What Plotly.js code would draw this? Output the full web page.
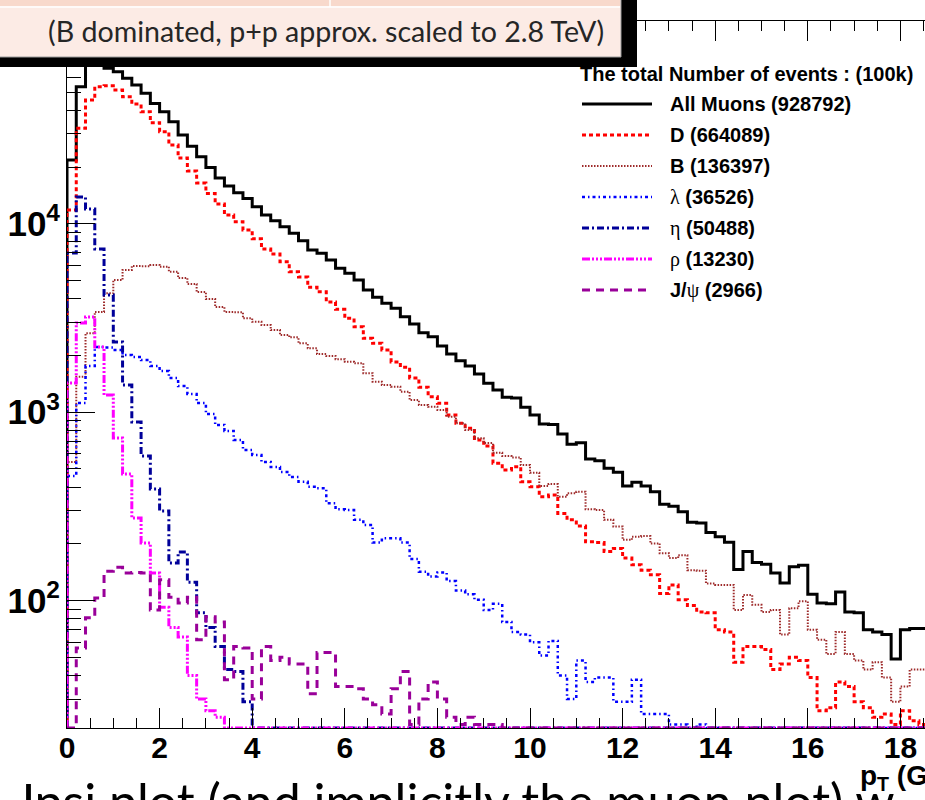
<!DOCTYPE html>
<html>
<head>
<meta charset="utf-8">
<script src="https://cdn.plot.ly/plotly-3.0.1.min.js"></script>
<style>
  html, body { margin: 0; padding: 0; background: #fff; overflow: hidden; }
  #chart { width: 925px; height: 800px; }
</style>
</head>
<body>
<div id="chart"></div>
<script>
// Muon pT spectra by parent, 0.2 GeV/c bins starting at 0
const binWidth = 0.2;
const nBins = 93;

const allMuons = [21800, 53300, 71300, 69500, 66800, 64100, 59100, 54500, 49200, 43500,
  39300, 34800, 29600, 25800, 22700, 19900, 17500, 15850, 14600, 13600,
  12300, 11120, 10370, 9640, 8890, 8130, 7250, 6970, 6420, 5800,
  5460, 5020, 4450, 4070, 3780, 3560, 3210, 2935, 2640, 2510,
  2244, 2034, 1875, 1757, 1593, 1422, 1310, 1199, 1190, 1061,
  965, 865, 860, 765, 675, 688, 564, 552, 503, 479,
  405, 424, 405, 378, 324, 317, 296, 260, 258, 230,
  218, 204, 146, 182, 159, 156, 140, 124, 151, 154,
  108, 97, 96, 111, 87, 86, 70, 68, 66, 49,
  70, 71, 71];

const dMesons = [11830, 32100, 45360, 53360, 54010, 51250, 47220, 43190, 39300, 34370,
  30780, 26160, 22320, 19040, 16440, 14460, 12720, 11120, 10250, 9260,
  8325, 7340, 6905, 6285, 5563, 5213, 4596, 4355, 3840, 3512,
  3147, 2840, 2465, 2319, 2136, 1845, 1729, 1517, 1354, 1207,
  1114, 965, 872, 820, 711, 661, 535, 493, 513, 427,
  402, 356, 363, 290, 268, 249, 205, 203, 182, 189,
  168, 155, 145, 137, 109, 121, 101, 94, 87, 86,
  70, 68, 47, 57, 57, 55, 43, 46, 50, 48,
  39, 26, 27, 37, 35, 29, 27, 24, 25, 22,
  26, 23, 22];

const bMesons = [543, 1541, 2619, 3399, 4271, 5025, 5679, 5964, 5950, 6037,
  5913, 5563, 5150, 4786, 4340, 3985, 3614, 3399, 3390, 3147,
  3018, 2900, 2728, 2566, 2495, 2319, 2181, 2034, 1986, 1907,
  1852, 1816, 1607, 1450, 1392, 1364, 1283, 1159, 1091, 1068,
  1026, 945, 872, 804, 726, 685, 609, 585, 575, 524,
  477, 405, 415, 356, 371, 378, 305, 302, 268, 247,
  210, 218, 220, 201, 178, 168, 174, 145, 144, 123,
  121, 121, 89, 107, 95, 87, 89, 66, 91, 99,
  70, 62, 52, 68, 52, 48, 43, 47, 39, 29,
  35, 43, 43];

const lambdas = [458, 1118, 1757, 2216, 2200, 2136, 2010, 1961, 1891, 1757,
  1653, 1517, 1376, 1248, 1118, 977, 854, 794, 711, 629,
  592, 543, 511, 481, 452, 427, 402, 394, 328, 305,
  302, 268, 252, 203, 214, 214, 203, 166, 142, 134,
  141, 127, 113, 108, 101, 89, 96, 77, 68, 66,
  60, 51, 61, 40, 30, 48, 37, 39, 39, 29,
  29, 38, 25, 25, 25, 22, 22, 0, 22];

const etas = [6990, 13860, 11970, 7340, 4183, 2356, 1392, 886, 585, 391,
  299, 158, 181, 125, 86, 72, 57, 43, 42, 29];

const rhos = [1427, 2972, 3198, 2216, 1233, 729, 469, 274, 202, 140,
  92, 72, 64, 40, 30, 26, 24];

const jpsis = [0, 56, 81, 103, 143, 150, 140, 141, 140, 89,
  129, 104, 97, 104, 62, 82, 77, 38, 57, 56,
  30, 57, 48, 50, 46, 46, 32, 53, 53, 35,
  35, 34, 30, 28, 25, 34, 42, 22, 30, 37,
  30, 24, 22, 24, 22, 22, 22];

const legendLabels = ['<b>All Muons</b>', '<b>D</b>', '<b>B</b>',
  '<span style="font-family:\'Liberation Serif\';font-weight:normal">λ</span>',
  '<span style="font-family:\'Liberation Serif\';font-weight:normal">η</span>',
  '<span style="font-family:\'Liberation Serif\';font-weight:normal">ρ</span>',
  '<b>J/</b><span style="font-family:\'Liberation Serif\';font-weight:normal">ψ</span>'];
const legendCounts = [928792, 664089, 136397, 36526, 50488, 13230, 2966];
const legendTitle = 'The total Number of events : (100k)';

const xTickVals = [0, 2, 4, 6, 8, 10, 12, 14, 16, 18];
const yTickVals = [100, 1000, 10000];
const yTickText = ['10<sup>2</sup>', '10<sup>3</sup>', '10<sup>4</sup>'];
const xAxisTitle = 'p<sub>T</sub> (GeV/c)';
const calloutText = '(B dominated, p+p approx. scaled to 2.8 TeV)';
const noteText = 'Jpsi plot (and implicitly the muon plot) w';

// ---- geometry ----
const W = 925, H = 800;
const M = {l: 67, r: 0, t: 21, b: 72};
const plotW = W - M.l - M.r;
const plotH = H - M.t - M.b;
const pxPerGeV = 46.3;
const pxPerDecade = 188.4;
const xMax = plotW / pxPerGeV;
const yLogMin = 1.3234;
const yLogMax = yLogMin + plotH / pxPerDecade;
const floorVal = Math.pow(10, yLogMin);

const px2x = p => (p - M.l) / plotW;
const py2y = p => (H - M.b - p) / plotH;

const styles = [
  {color: '#000000', width: 3, dash: 'solid'},
  {color: '#ff0000', width: 3, dash: '4px,3px'},
  {color: '#9e2b2b', width: 2, dash: '1.5px,1.5px'},
  {color: '#0000ff', width: 2.5, dash: '3px,3px,1.5px,3px'},
  {color: '#000099', width: 3, dash: '7px,3px,2px,3px'},
  {color: '#ff00ff', width: 3, dash: '8px,2px,2px,2px,2px,2px,2px,2px'},
  {color: '#990099', width: 3, dash: '8px,6px'}
];
const seriesList = [allMuons, dMesons, bMesons, lambdas, etas, rhos, jpsis];

// ROOT-style outline histogram; empty bins sit on the axis floor
function stepTrace(vals, st) {
  const xs = [0], ys = [floorVal];
  let last = floorVal;
  for (let i = 0; i < nBins; i++) {
    const v = i < vals.length ? vals[i] : 0;
    last = v > 0 ? v : floorVal;
    xs.push(i * binWidth); ys.push(last);
  }
  xs.push(nBins * binWidth); ys.push(last);
  return {
    type: 'scatter', mode: 'lines', x: xs, y: ys,
    line: {shape: 'hv', color: st.color, width: st.width, dash: st.dash},
    hoverinfo: 'skip'
  };
}
const traces = seriesList.map((s, i) => stepTrace(s, styles[i]));

// minor log ticks
const yMinor = [];
[10, 100, 1000, 10000].forEach(d => { for (let k = 2; k <= 9; k++) yMinor.push(k * d); });

const tickFont = "'Liberation Sans Narrow', 'Liberation Sans', Arial, sans-serif";
const legFont = "'Liberation Sans', Arial, sans-serif";

const shapes = [];
const annotations = [];

// legend
annotations.push({xref: 'paper', yref: 'paper', x: px2x(578), y: py2y(74),
  xanchor: 'left', yanchor: 'middle', showarrow: false,
  text: '<b>' + legendTitle + '</b>', font: {family: legFont, size: 20, color: '#000'}});
legendLabels.forEach((lab, i) => {
  const yc = 104 + 31 * i;
  shapes.push({type: 'line', xref: 'paper', yref: 'paper', layer: 'above',
    x0: px2x(582), x1: px2x(652), y0: py2y(yc), y1: py2y(yc),
    line: {color: styles[i].color, width: styles[i].width, dash: styles[i].dash}});
  annotations.push({xref: 'paper', yref: 'paper', x: px2x(668), y: py2y(yc),
    xanchor: 'left', yanchor: 'middle', showarrow: false,
    text: lab + '<b> (' + legendCounts[i] + ')</b>',
    font: {family: legFont, size: 20, color: '#000'}});
});

// callout panel over the top-left corner
shapes.push({type: 'rect', xref: 'paper', yref: 'paper', layer: 'above',
  x0: px2x(-20), x1: px2x(637), y0: py2y(-20), y1: py2y(67),
  fillcolor: '#000', line: {width: 0}});
shapes.push({type: 'rect', xref: 'paper', yref: 'paper', layer: 'above',
  x0: px2x(-20), x1: px2x(621), y0: py2y(-20), y1: py2y(57),
  fillcolor: '#fcebe5', line: {color: '#9a9a9a', width: 1}});
shapes.push({type: 'rect', xref: 'paper', yref: 'paper', layer: 'above',
  x0: px2x(-20), x1: px2x(620), y0: py2y(-20), y1: py2y(6),
  fillcolor: '#f8d9cc', line: {width: 0}});
shapes.push({type: 'line', xref: 'paper', yref: 'paper', layer: 'above',
  x0: px2x(-20), x1: px2x(620), y0: py2y(7), y1: py2y(7),
  line: {color: '#ffffff', width: 1.5}});
shapes.push({type: 'line', xref: 'paper', yref: 'paper', layer: 'above',
  x0: px2x(330), x1: px2x(330), y0: py2y(-20), y1: py2y(7),
  line: {color: '#ffffff', width: 1.5}});
annotations.push({xref: 'paper', yref: 'paper', x: px2x(46), y: py2y(31),
  xanchor: 'left', yanchor: 'middle', showarrow: false, text: calloutText,
  font: {family: 'Lato, sans-serif', size: 28.6, color: '#262626'}});

// axis title at the right end of the x axis
annotations.push({xref: 'paper', yref: 'paper', x: px2x(858), y: py2y(777),
  xanchor: 'left', yanchor: 'middle', showarrow: false, text: '<b>' + xAxisTitle + '</b>',
  font: {family: legFont, size: 28, color: '#000'}});

// running text below the chart, cut by the page edge
annotations.push({xref: 'paper', yref: 'paper', x: px2x(12), y: py2y(833),
  xanchor: 'left', yanchor: 'bottom', showarrow: false, text: noteText,
  font: {family: 'Lato, sans-serif', size: 50, color: '#000'}});

const layout = {
  width: W, height: H,
  margin: {l: M.l, r: M.r, t: M.t, b: M.b, pad: 0},
  paper_bgcolor: '#ffffff', plot_bgcolor: '#ffffff',
  showlegend: false,
  xaxis: {
    range: [0, xMax], showgrid: false, zeroline: false,
    showline: true, linecolor: '#000', linewidth: 1, mirror: 'ticks',
    ticks: 'inside', ticklen: 20, tickwidth: 1, tickcolor: '#000',
    tickmode: 'array', tickvals: xTickVals, ticktext: xTickVals.map(String),
    tickfont: {family: tickFont, size: 30, color: '#000', weight: 'bold'},
    ticklabelstandoff: -7,
    minor: {ticks: 'inside', ticklen: 10, tickwidth: 1, tickcolor: '#000', dtick: 0.5, tick0: 0, showgrid: false}
  },
  yaxis: {
    type: 'log', range: [yLogMin, yLogMax], showgrid: false, zeroline: false,
    showline: true, linecolor: '#000', linewidth: 1,
    ticks: 'inside', ticklen: 28, tickwidth: 1, tickcolor: '#000',
    tickmode: 'array', tickvals: yTickVals, ticktext: yTickText,
    tickfont: {family: tickFont, size: 35, color: '#000', weight: 'bold'},
    ticklabelstandoff: -1,
    minor: {ticks: 'inside', ticklen: 14, tickwidth: 1, tickcolor: '#000', tickvals: yMinor, showgrid: false}
  },
  shapes: shapes,
  annotations: annotations
};

Plotly.newPlot('chart', traces, layout, {staticPlot: true, displayModeBar: false});
</script>
</body>
</html>
